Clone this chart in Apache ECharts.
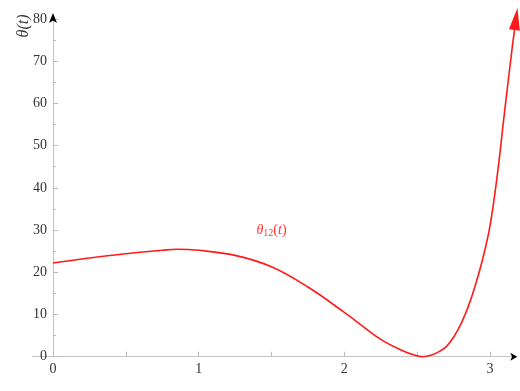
<!DOCTYPE html>
<html>
<head>
<meta charset="utf-8">
<script src="https://cdn.jsdelivr.net/npm/echarts@6/dist/echarts.min.js"></script>
<style>
html,body{margin:0;padding:0;background:#fff;}
#chart{width:520px;height:391px;}
</style>
</head>
<body>
<div id="chart"></div>
<script>
// Data
var tValues = [0, 0.25, 0.5, 0.75, 0.85, 1.0, 1.25, 1.5, 1.75, 2.0, 2.1, 2.25, 2.4, 2.47, 2.54, 2.6, 2.65, 2.7, 2.75, 2.8, 2.85, 2.9, 2.95, 3.0, 3.05, 3.1, 3.15, 3.178];
var thetaValues = [22.2, 23.4, 24.4, 25.2, 25.45, 25.2, 24.0, 21.3, 16.5, 10.5, 7.9, 4.1, 1.4, 0.5, 0, 0.4, 1.2, 2.4, 4.6, 7.7, 11.8, 17.0, 23.2, 31, 43, 58, 72.5, 80];
var xLabelValues = [0, 1, 2, 3];
var xTickValues = [0, 0.5, 1, 1.5, 2, 2.5, 3];
var seriesLabel = {name: 'θ12(t)', t: 1.5, theta: 30};
var yAxisTitle = 'θ(t)';

var points = tValues.map(function (t, i) { return [t, thetaValues[i]]; });
var data = points.map(function (p, i) {
  if (i === points.length - 1) {
    return {value: p, symbol: 'triangle', symbolSize: [11, 22], symbolRotate: -8,
            itemStyle: {color: '#ff1a1a'}};
  }
  return {value: p};
});

var serifFont = '"Liberation Serif", "DejaVu Serif", serif';
var chart = echarts.init(document.getElementById('chart'), null, {renderer: 'canvas'});
chart.setOption({
  animation: false,
  backgroundColor: '#fff',
  grid: {left: 32.6, right: 6.7, top: 19, bottom: 34.3, containLabel: false},
  xAxis: [{
    type: 'value', min: -0.14, max: 3.16,
    axisLine: {onZero: true, lineStyle: {color: '#c4c4c4', width: 1}},
    axisTick: {show: true, inside: true, length: 5, customValues: xTickValues, lineStyle: {color: '#bbbbbb'}},
    axisLabel: {customValues: xLabelValues, margin: 6, color: '#333', fontFamily: serifFont, fontSize: 14},
    splitLine: {show: false}
  }, {
    type: 'value', min: -0.14, max: 3.16, position: 'bottom',
    axisLine: {onZero: true, symbol: ['none', 'arrow'], symbolSize: [6, 7], symbolOffset: [0, 4],
               lineStyle: {color: '#000', width: 0}},
    axisTick: {show: false}, axisLabel: {show: false}, splitLine: {show: false}
  }],
  yAxis: [{
    type: 'value', min: 0, max: 80, interval: 10,
    axisLine: {onZero: true, lineStyle: {color: '#c4c4c4', width: 1}},
    axisTick: {show: true, inside: true, length: 5, lineStyle: {color: '#bbbbbb'}},
    minorTick: {show: true, splitNumber: 2, length: 3, lineStyle: {color: '#bbbbbb'}},
    axisLabel: {margin: -14.5, color: '#333', fontFamily: serifFont, fontSize: 14},
    splitLine: {show: false}
  }, {
    type: 'value', min: 0, max: 80, interval: 10, position: 'left',
    axisLine: {onZero: true, symbol: ['none', 'arrow'], symbolSize: [6, 10], symbolOffset: [0, 6],
               lineStyle: {color: '#000', width: 0}},
    axisTick: {show: false}, axisLabel: {show: false}, splitLine: {show: false}
  }],
  graphic: [{
    type: 'text', x: 24, y: 26, rotation: Math.PI / 2,
    style: {text: yAxisTitle, fill: '#333', font: 'italic 16px ' + serifFont, align: 'center', verticalAlign: 'middle'}
  }],
  series: [{
    type: 'line', xAxisIndex: 0, yAxisIndex: 0,
    data: data, symbol: 'none', showSymbol: true, smooth: 0.4, clip: false,
    lineStyle: {color: '#ff1a1a', width: 1.6},
    itemStyle: {color: '#ff1a1a'},
    emphasis: {disabled: true},
    markPoint: {
      symbol: 'circle', symbolSize: 0, silent: true,
      data: [{coord: [seriesLabel.t, seriesLabel.theta], value: seriesLabel.name}],
      label: {
        show: true, position: 'inside',
        formatter: '{i|θ}{s|12}{p|(}{i|t}{p|)}',
        rich: {
          i: {fontFamily: serifFont, fontStyle: 'italic', fontSize: 14, color: '#ff3333'},
          p: {fontFamily: serifFont, fontSize: 14, color: '#ff3333'},
          s: {fontFamily: serifFont, fontSize: 10, color: '#ff3333', verticalAlign: 'bottom', padding: [6, 0, 0, 0]}
        }
      }
    }
  }]
});
</script>
</body>
</html>
